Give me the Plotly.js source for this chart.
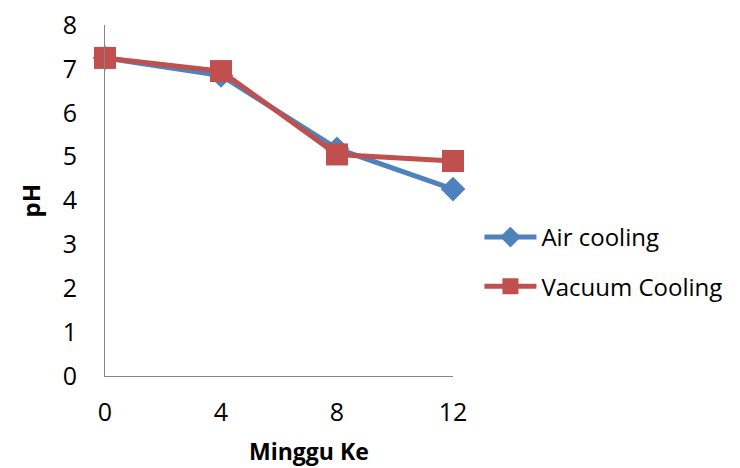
<!DOCTYPE html>
<html>
<head>
<meta charset="utf-8">
<script src="https://cdn.plot.ly/plotly-3.0.1.min.js"></script>
<style>html,body{margin:0;padding:0;background:#fff;}#chart{width:740px;height:468px;}</style>
</head>
<body>
<div id="chart"></div>
<script>
const weeks = ["0", "4", "8", "12"];
const airCooling = [7.25, 6.85, 5.18, 4.26];
const vacuumCooling = [7.25, 6.95, 5.05, 4.9];
const seriesNames = ["Air cooling", "Vacuum Cooling"];
const yTicks = [0, 1, 2, 3, 4, 5, 6, 7, 8];
const xTitle = "Minggu Ke";
const yTitle = "pH";

const fontFam = "Open Sans, Liberation Sans, sans-serif";

const traces = [
  {
    x: weeks, y: airCooling, name: seriesNames[0], type: "scatter", mode: "lines+markers",
    legendgroup: "a",
    line: {color: "#4F81BD", width: 5},
    marker: {symbol: "diamond", size: 19, color: "#4F81BD"},
    cliponaxis: false
  },
  {
    x: weeks, y: vacuumCooling, name: seriesNames[1], type: "scatter", mode: "lines+markers",
    legendgroup: "b",
    line: {color: "#C0504D", width: 5},
    marker: {symbol: "square", size: 22, color: "#C0504D"},
    cliponaxis: false
  }
];

const layout = {
  width: 740, height: 468,
  margin: {l: 105, r: 287, t: 25, b: 92, autoexpand: false},
  paper_bgcolor: "#fff", plot_bgcolor: "#fff",
  font: {family: fontFam, size: 25, color: "#000"},
  showlegend: true,
  legend: {
    x: 1.076, xanchor: "left", y: 0.325, yanchor: "middle",
    font: {size: 24, color: "#000"},
    traceorder: "grouped", tracegroupgap: 15,
    itemwidth: 52, bgcolor: "rgba(0,0,0,0)"
  },
  xaxis: {
    type: "category", range: [0, 3],
    showgrid: false, zeroline: false,
    showline: true, linecolor: "#868686", linewidth: 1,
    ticks: "", ticklabelstandoff: 14,
    tickfont: {size: 25}
  },
  yaxis: {
    range: [0, 8], tickvals: yTicks,
    showgrid: false, zeroline: false,
    showline: true, linecolor: "#868686", linewidth: 1,
    ticks: "", ticklabelstandoff: 22, tickfont: {size: 25}
  },
  annotations: [
    {text: "<b>" + xTitle + "</b>", xref: "paper", yref: "paper", x: 0.586, y: -0.214,
     xanchor: "center", yanchor: "middle", showarrow: false, font: {size: 23}},
    {text: "<b>" + yTitle + "</b>", xref: "paper", yref: "paper", x: -0.2155, y: 0.5,
     xanchor: "center", yanchor: "middle", textangle: -90, showarrow: false, font: {size: 24}}
  ]
};

Plotly.newPlot("chart", traces, layout, {staticPlot: true, displayModeBar: false});
</script>
</body>
</html>
